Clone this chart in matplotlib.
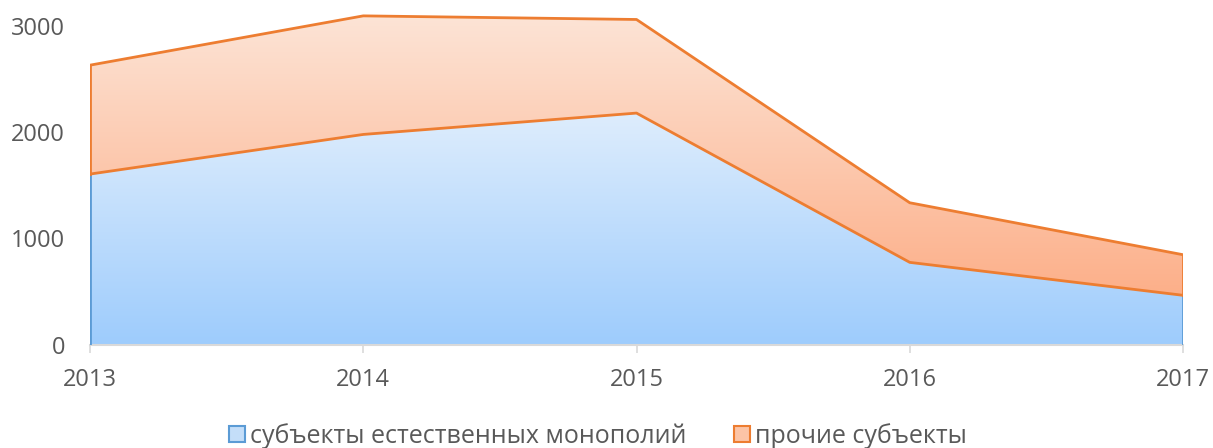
import numpy as np
import matplotlib
matplotlib.use("Agg")
import matplotlib.pyplot as plt
from matplotlib.colors import LinearSegmentedColormap
from matplotlib.patches import Patch

plt.rcParams['font.family'] = ['Open Sans', 'DejaVu Sans']

years = [2013, 2014, 2015, 2016, 2017]
monopolies = [1604, 1977, 2178, 773, 463]
others = [1025, 1116, 881, 561, 382]
labels = ['субъекты естественных монополий', 'прочие субъекты']

x = np.arange(len(years))
base = np.array(monopolies)
total = base + np.array(others)

fig = plt.figure(figsize=(12.13, 4.48), dpi=100)
ax = fig.add_axes([90 / 1213, 1 - 344.5 / 448, (1183 - 90) / 1213, 340 / 448])
ax.set_xlim(0, len(years) - 1)
ax.set_ylim(0, 3200)


def gradient_fill(lower, upper, c_top, c_bot, y_top, y_bot):
    poly = ax.fill_between(x, lower, upper, facecolor='none', edgecolor='none')
    cmap = LinearSegmentedColormap.from_list('g', [c_bot, c_top])
    grad = np.linspace(0, 1, 256).reshape(-1, 1)
    im = ax.imshow(grad, cmap=cmap, aspect='auto', origin='lower',
                   extent=[0, len(years) - 1, y_bot, y_top], zorder=1)
    path = poly.get_paths()[0]
    im.set_clip_path(path, transform=ax.transData)


gradient_fill(np.zeros_like(base), base, '#deedfd', '#9eccfc', 2180, 0)
gradient_fill(base, total, '#fde4d6', '#fcaf89', 3100, 460)
ax.set_ylim(0, 3200)

# outlines
ax.plot([0, 0], [0, base[0]], color='#5b9bd5', lw=2, zorder=3)
ax.plot([4, 4], [0, base[-1]], color='#5b9bd5', lw=2, zorder=3)
ax.plot(x, base, color='#ed7d31', lw=2, zorder=4)
ax.plot(x, total, color='#ed7d31', lw=2, zorder=4)
ax.plot([0, 0], [base[0], total[0]], color='#ed7d31', lw=2, zorder=4)
ax.plot([4, 4], [base[-1], total[-1]], color='#ed7d31', lw=2, zorder=4)

for s in ['top', 'right', 'left']:
    ax.spines[s].set_visible(False)
ax.spines['bottom'].set_color('#d9d9d9')
ax.spines['bottom'].set_linewidth(1.5)
ax.spines['bottom'].set_zorder(2)

ax.set_xticks(x)
ax.set_xticklabels([str(y) for y in years])
ax.set_yticks([0, 1000, 2000, 3000])
ax.tick_params(axis='x', length=6, width=1.2, color='#d9d9d9', pad=11,
               labelsize=17, labelcolor='#595959')
ax.tick_params(axis='y', length=0, pad=18, labelsize=17, labelcolor='#595959')

handles = [Patch(facecolor='#c4def9', edgecolor='#5b9bd5', lw=1.5),
           Patch(facecolor='#fcc4a6', edgecolor='#ed7d31', lw=1.5)]
fig.legend(handles, labels, loc='center', bbox_to_anchor=(598 / 1213, 1 - 436 / 448),
           ncol=2, frameon=False, fontsize=18, labelcolor='#595959',
           handlelength=0.65, handleheight=0.65, handletextpad=0.2, columnspacing=1.9)

fig.savefig('out.png', dpi=100)
